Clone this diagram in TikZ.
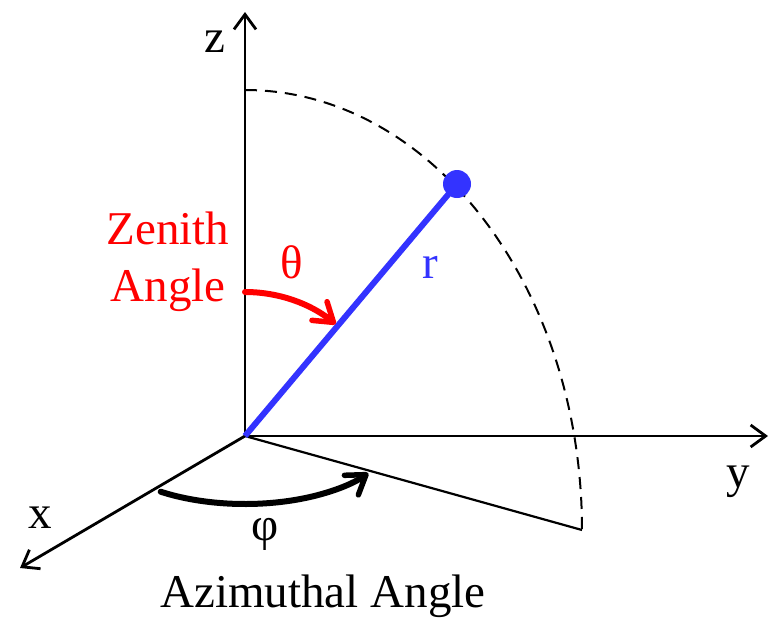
\documentclass[tikz,border=0pt]{standalone}
\usepackage{fontspec}
\setmainfont{Liberation Serif}
\usetikzlibrary{arrows.meta}
\definecolor{myblue}{RGB}{51,51,255}
\definecolor{myred}{RGB}{255,0,0}
\begin{document}
\begin{tikzpicture}[x=1pt,y=-1pt,
  axis/.style={line width=2.8pt,-{Straight Barb[length=15pt,width=22pt,line width=2.8pt]}},
  lbl/.style={anchor=base,inner sep=0pt,font=\fontsize{47}{56}\selectfont\rmfamily},
  angarrow/.style={line width=6pt,line cap=round,-{Straight Barb[length=18pt,width=24pt,line width=5.5pt,round]}},
  guide/.style={line width=2pt,dash pattern=on 12pt off 8pt},
]
\useasboundingbox (0,0) rectangle (772,619);
\coordinate (O) at (245,436);
\coordinate (zt) at (245,12);
\coordinate (yt) at (768,436);
\coordinate (xt) at (20,568);
\coordinate (P) at (582,530);
\coordinate (Ztop) at (245,90);
% axes
\draw[axis] (O) -- (zt);
\draw[axis] (O) -- (yt);
\draw[axis] (O) -- (xt);
% projection line
\draw[line width=2.2pt] (O) -- (P);
% dashed arc
\draw[guide] (Ztop) arc[start angle=90,end angle=0,x radius=337pt,y radius=440pt];
% radius vector and point
\node[circle,fill=myblue,minimum size=28pt,inner sep=0pt] (dot) at (457,184) {};
\draw[myblue,line width=6pt] (O) -- (dot.center);
% angle arrows
\draw[angarrow,myred] ([shift={(90:144pt)}]O) arc[start angle=90,end angle=51,radius=144pt];
\draw[angarrow,black] ([shift={(235:147pt and 68pt)}]O) arc[start angle=235,end angle=327,x radius=147pt,y radius=68pt];
% labels
\node[lbl] (zl) at (215,52) {z};
\node[lbl] (yl) at (738,487) {y};
\node[lbl] (xl) at (40,528) {x};
\node[lbl,text=myred] (zen1) at (168,244) {Zenith};
\node[lbl,text=myred] (zen2) at (168,301) {Angle};
\node[lbl,text=myred] (th) at (292,278) {θ};
\node[lbl,text=myblue] (rl) at (430,278) {r};
\node[lbl] (ph) at (265,540) {φ};
\node[lbl] (az) at (323,607) {Azimuthal Angle};
\end{tikzpicture}
\end{document}
